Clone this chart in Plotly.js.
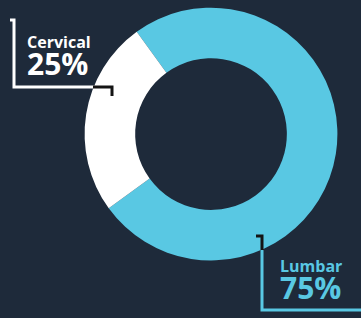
<!DOCTYPE html>
<html>
<head>
<meta charset="utf-8">
<script src="https://cdn.plot.ly/plotly-3.0.1.min.js"></script>
<style>
html,body{margin:0;padding:0;background:#1e2a3a;}
#chart{width:361px;height:318px;}
</style>
</head>
<body>
<div id="chart"></div>
<script>
const categories = ['Lumbar', 'Cervical'];
const values = [75, 25];
const colors = ['#59c8e3', '#ffffff'];

const BG = '#1e2a3a';
const DARK = '#141414';
const FONT = 'Open Sans, sans-serif';

const trace = {
  type: 'pie',
  labels: categories,
  values: values,
  hole: 0.6,
  sort: false,
  direction: 'clockwise',
  rotation: -36,
  marker: {colors: colors, line: {width: 0}},
  textinfo: 'none',
  hoverinfo: 'none',
  showlegend: false,
  domain: {x: [0.234, 0.935], y: [0.181, 0.976]}
};

const label = (i) => '<span style="font-size:16px"><b>' + categories[i] + '</b></span><br>' +
  '<span style="font-size:30px"><b>' + values[i] + '%</b></span>';

const annotations = [
  {x: 25, y: 29, text: label(1), font: {size: 20.5, color: colors[1], family: FONT}},
  {x: 278, y: 253, text: label(0), font: {size: 20.5, color: colors[0], family: FONT}}
].map(a => Object.assign({xref: 'x', yref: 'y', xanchor: 'left', yanchor: 'top', align: 'left', showarrow: false}, a));

const seg = (pts, color) => ({
  type: 'path', xref: 'x', yref: 'y',
  path: 'M ' + pts.map(p => p.join(',')).join(' L '),
  line: {color: color, width: 3}
});

const shapes = [
  seg([[10, 20], [14, 20], [14, 87], [94, 87]], '#ffffff'),
  seg([[93, 87], [112, 87], [112, 96]], DARK),
  seg([[256, 236], [262, 236], [262, 251]], DARK),
  seg([[262, 250], [262, 310], [365, 310]], colors[0])
];

const layout = {
  width: 361, height: 318,
  margin: {l: 0, r: 0, t: 0, b: 0},
  paper_bgcolor: BG, plot_bgcolor: 'rgba(0,0,0,0)',
  xaxis: {range: [0, 361], visible: false, fixedrange: true},
  yaxis: {range: [318, 0], visible: false, fixedrange: true},
  showlegend: false,
  annotations: annotations,
  shapes: shapes
};

Plotly.newPlot('chart', [trace], layout, {staticPlot: true, displayModeBar: false});
</script>
</body>
</html>
